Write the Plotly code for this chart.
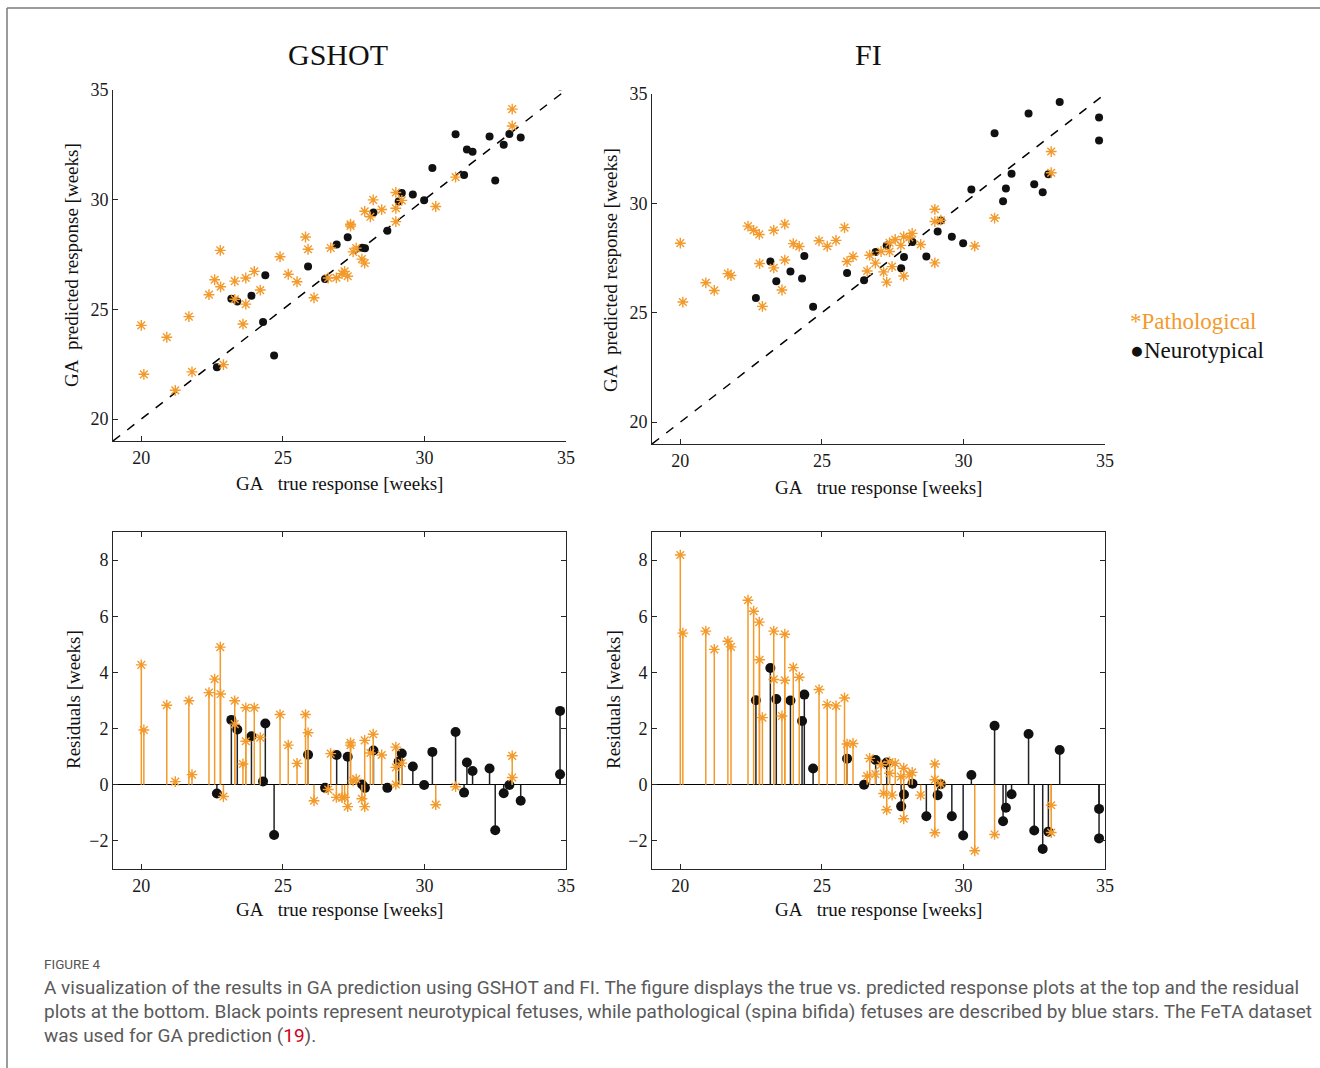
import plotly.graph_objects as go

W, H = 1320, 1068
GA_RANGE = [19, 35]
RES_RANGE = [-3, 9]

# ---- data (GA in weeks) ----
path_true = [20.0, 20.09, 20.9, 21.2, 21.68, 21.79, 22.39, 22.59, 22.79, 22.8, 22.9, 23.3, 23.3,
             23.59, 23.69, 23.69, 23.99, 24.2, 24.9, 25.19, 25.5, 25.8, 25.89, 26.1, 26.6, 26.69,
             26.89, 27.09, 27.18, 27.29, 27.39, 27.39, 27.48, 27.59, 27.79, 27.89, 27.89, 28.09,
             28.19, 28.49, 28.99, 28.99, 28.99, 29.2, 30.4, 31.1, 33.1, 33.1]
gshot_path_pred = [24.27, 22.04, 23.73, 21.31, 24.67, 22.15, 25.67, 26.35, 27.69, 26.03, 22.48, 26.29,
                   25.46, 24.33, 26.43, 25.24, 26.73, 25.88, 27.40, 26.60, 26.26, 28.30, 27.74, 25.53,
                   26.43, 27.80, 26.44, 26.63, 26.73, 26.51, 28.88, 28.80, 27.62, 27.79, 27.29, 29.47,
                   27.11, 29.22, 29.99, 29.55, 30.33, 29.61, 29.00, 29.97, 29.69, 31.03, 34.13, 33.36]
fi_path_pred = [28.18, 25.49, 26.37, 26.02, 26.79, 26.70, 28.96, 28.77, 28.58, 27.25, 25.29, 28.77,
                27.05, 26.04, 29.05, 27.41, 28.16, 28.03, 28.29, 28.04, 28.31, 28.89, 27.34, 27.57,
                26.91, 27.63, 27.27, 27.80, 26.87, 26.40, 28.20, 27.80, 27.11, 28.35, 28.08, 28.48,
                26.68, 28.44, 28.63, 28.12, 29.73, 29.17, 27.28, 29.23, 28.05, 29.33, 32.37, 31.40]

neuro_true = [22.67, 23.18, 23.39, 23.89, 24.3, 24.38, 24.69, 25.89, 26.49, 26.9, 27.29, 27.8, 27.9,
              28.2, 28.69, 29.09, 29.2, 29.59, 29.99, 30.28, 31.1, 31.4, 31.5, 31.7, 32.3, 32.5,
              32.8, 33.0, 33.4, 34.79, 34.79]
gshot_neuro_pred = [22.36, 25.49, 25.36, 25.62, 24.42, 26.56, 22.90, 26.96, 26.38, 27.96, 28.29, 27.81,
                    27.79, 29.42, 28.58, 29.92, 30.31, 30.24, 29.98, 31.45, 32.98, 31.12, 32.29, 32.19,
                    32.88, 30.88, 32.50, 32.99, 32.83, 37.42, 35.16]
fi_neuro_pred = [25.68, 27.34, 26.44, 26.89, 26.57, 27.59, 25.27, 26.82, 26.49, 27.78, 28.08, 27.03,
                 27.55, 28.24, 27.57, 28.72, 29.22, 28.47, 28.18, 30.63, 33.20, 30.10, 30.68, 31.36,
                 34.11, 30.87, 30.51, 31.33, 34.64, 33.93, 32.88]

x_ticks = [20, 25, 30, 35]
pred_ticks = [20, 25, 30, 35]
res_ticks = [-2, 0, 2, 4, 6, 8]

ORANGE = "#F39A2B"
BLACK = "#111111"
AXC = "#262626"
SERIF = "Liberation Serif, Times New Roman, serif"

fig = go.Figure()


def residuals(true, pred):
    return [p - t for t, p in zip(true, pred)]


def stems(xs, ys):
    sx, sy = [], []
    for x, y in zip(xs, ys):
        sx += [x, x, None]
        sy += [0, y, None]
    return sx, sy


STAR = dict(symbol="asterisk-open", size=9, color=ORANGE, line=dict(color=ORANGE, width=1.4))

methods = [("GSHOT", gshot_path_pred, gshot_neuro_pred, "x", "y", "x3", "y3"),
           ("FI", fi_path_pred, fi_neuro_pred, "x2", "y2", "x4", "y4")]

for name, ppred, npred, xa, ya, xr, yr in methods:
    # identity line
    fig.add_trace(go.Scatter(x=GA_RANGE, y=GA_RANGE, mode="lines", xaxis=xa, yaxis=ya,
                             line=dict(color="black", width=1.5, dash="dash"),
                             showlegend=False, hoverinfo="skip"))
    fig.add_trace(go.Scatter(x=neuro_true, y=npred, mode="markers", xaxis=xa, yaxis=ya,
                             marker=dict(symbol="circle", size=8, color=BLACK),
                             showlegend=False))
    fig.add_trace(go.Scatter(x=path_true, y=ppred, mode="markers", xaxis=xa, yaxis=ya,
                             marker=STAR, showlegend=False))
    # residuals
    nres = residuals(neuro_true, npred)
    pres = residuals(path_true, ppred)
    sx, sy = stems(neuro_true, nres)
    fig.add_trace(go.Scatter(x=sx, y=sy, mode="lines", xaxis=xr, yaxis=yr,
                             line=dict(color="#222222", width=1.5), showlegend=False,
                             hoverinfo="skip"))
    fig.add_trace(go.Scatter(x=neuro_true, y=nres, mode="markers", xaxis=xr, yaxis=yr,
                             marker=dict(symbol="circle", size=10, color=BLACK),
                             showlegend=False))
    sx, sy = stems(path_true, pres)
    fig.add_trace(go.Scatter(x=sx, y=sy, mode="lines", xaxis=xr, yaxis=yr,
                             line=dict(color=ORANGE, width=1.5), showlegend=False,
                             hoverinfo="skip"))
    fig.add_trace(go.Scatter(x=path_true, y=pres, mode="markers", xaxis=xr, yaxis=yr,
                             marker=STAR, showlegend=False))


def dx(a, b):
    return [a / W, b / W]


def dy(top, bottom):
    return [1 - bottom / H, 1 - top / H]


tickfont = dict(family=SERIF, size=18, color="#1a1a1a")


def xaxis(dom, anchor, mirror):
    return dict(domain=dom, anchor=anchor, range=GA_RANGE, tickvals=x_ticks,
                showline=True, linecolor=AXC, linewidth=1, mirror=mirror,
                ticks="inside", ticklen=5, tickcolor=AXC, showgrid=False,
                zeroline=False, tickfont=tickfont, automargin=False)


def yaxis(dom, anchor, rng, tv, mirror, zl=False):
    return dict(domain=dom, anchor=anchor, range=rng, tickvals=tv,
                showline=True, linecolor=AXC, linewidth=1, mirror=mirror,
                ticks="inside", ticklen=5, tickcolor=AXC, showgrid=False,
                zeroline=zl, zerolinecolor="black", zerolinewidth=1, tickfont=tickfont,
                automargin=False)


fig.update_layout(
    width=W, height=H, margin=dict(l=0, r=0, t=0, b=0, pad=0, autoexpand=False),
    font=dict(family=SERIF),
    paper_bgcolor="white", plot_bgcolor="white", showlegend=False,
    xaxis=xaxis(dx(113, 566), "y", False),
    yaxis=yaxis(dy(90, 441), "x", GA_RANGE, pred_ticks, False),
    xaxis2=xaxis(dx(652, 1105), "y2", False),
    yaxis2=yaxis(dy(94, 444), "x2", GA_RANGE, pred_ticks, False),
    xaxis3=xaxis(dx(113, 566), "y3", "ticks"),
    yaxis3=yaxis(dy(532, 869), "x3", RES_RANGE, res_ticks, "ticks", True),
    xaxis4=xaxis(dx(652, 1105), "y4", "ticks"),
    yaxis4=yaxis(dy(532, 869), "x4", RES_RANGE, res_ticks, "ticks", True),
)

ann = []


def A(text, x, y, size, color="#111111", family=SERIF, angle=0, xanchor="center"):
    ann.append(dict(text=text, x=x / W, y=1 - y / H, xref="paper", yref="paper",
                    showarrow=False, font=dict(family=family, size=size, color=color),
                    textangle=angle, xanchor=xanchor, yanchor="middle"))


NB = "\u00a0"
xt = "GA" + NB * 3 + "true response [weeks]"
yt = "GA" + NB * 2 + "predicted response [weeks]"
A("GSHOT", 338, 55, 30)
A("FI", 868, 55, 30)
A(xt, 339, 483, 19)
A(xt, 878, 487, 19)
A(xt, 339, 909, 19)
A(xt, 878, 909, 19)
A(yt, 71, 265, 19, angle=-90)
A(yt, 610, 270, 19, angle=-90)
A("Residuals [weeks]", 73, 700, 19, angle=-90)
A("Residuals [weeks]", 613, 700, 19, angle=-90)
A("*Pathological", 1128, 322, 23, color=ORANGE, xanchor="left")
A("\u25CFNeurotypical", 1128, 350, 23, color="#111111", xanchor="left")

CAP = "Roboto, Arial, sans-serif"
A("FIGURE 4", 42, 964, 13.5, color="#555555", family=CAP, xanchor="left")
cap_lines = [
    "A visualization of the results in GA prediction using GSHOT and FI. The figure displays the true vs. predicted response plots at the top and the residual",
    "plots at the bottom. Black points represent neurotypical fetuses, while pathological (spina bifida) fetuses are described by blue stars. The FeTA dataset",
    "was used for GA prediction (<span style='color:#d0021b'>19</span>).",
]
for i, line in enumerate(cap_lines):
    A(line, 42, 987 + 24 * i, 19, color="#5a5a5a", family=CAP, xanchor="left")

fig.update_layout(annotations=ann)

fig.update_layout(shapes=[
    dict(type="line", xref="paper", yref="paper", x0=7 / W, x1=1, y0=1 - 8 / H, y1=1 - 8 / H,
         line=dict(color="#7a7a7a", width=1.5)),
    dict(type="line", xref="paper", yref="paper", x0=7 / W, x1=7 / W, y0=0, y1=1 - 8 / H,
         line=dict(color="#7a7a7a", width=1.5)),
])

POST = ("document.documentElement.style.margin='0';document.documentElement.style.overflow='hidden';"
        "document.body.style.margin='0';document.body.style.padding='0';document.body.style.overflow='hidden';"
        "var d=document.querySelector('.plotly-graph-div');"
        "d.style.position='absolute';d.style.left='0px';d.style.top='0px';")

fig.write_html("out.html", config={"displayModeBar": False}, post_script=POST)
